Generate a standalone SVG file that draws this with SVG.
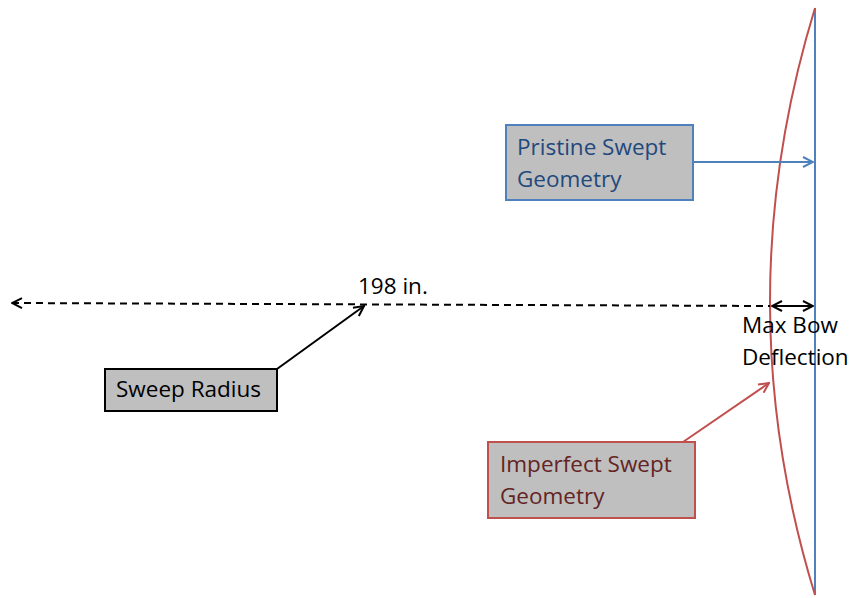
<svg xmlns="http://www.w3.org/2000/svg" width="855" height="598" viewBox="0 0 855 598">
<style>
text{font-family:"Open Sans","Liberation Sans",sans-serif;font-size:22.5px}
.box{fill:#BFBFBF;stroke-width:2}
</style>
<defs>
<marker id="ab" viewBox="0 0 12 12" refX="11" refY="6" markerWidth="12" markerHeight="12" markerUnits="userSpaceOnUse" orient="auto-start-reverse"><path d="M1,1 L11,6 L1,11" fill="none" stroke="#000" stroke-width="2"/></marker>
<marker id="ablue" viewBox="0 0 12 12" refX="11" refY="6" markerWidth="12" markerHeight="12" markerUnits="userSpaceOnUse" orient="auto"><path d="M1,1 L11,6 L1,11" fill="none" stroke="#4F81BD" stroke-width="2"/></marker>
<marker id="ared" viewBox="0 0 12 12" refX="11" refY="6" markerWidth="12" markerHeight="12" markerUnits="userSpaceOnUse" orient="auto"><path d="M1,1 L11,6 L1,11" fill="none" stroke="#C0504D" stroke-width="2"/></marker>
</defs>
<g id="geometry">
<line x1="815" y1="8" x2="815" y2="595" stroke="#4F81BD" stroke-width="2"/>
<path d="M815,8 Q725,302 815,595" fill="none" stroke="#C0504D" stroke-width="2"/>
</g>
<g id="connectors">
<line x1="12" y1="303" x2="770" y2="306" stroke="#000" stroke-width="2" stroke-dasharray="7,5" marker-start="url(#ab)"/>
<line x1="772" y1="306" x2="813" y2="306" stroke="#000" stroke-width="2" marker-start="url(#ab)" marker-end="url(#ab)"/>
<line x1="277" y1="369" x2="364" y2="306" stroke="#000" stroke-width="2" marker-end="url(#ab)"/>
<line x1="693" y1="162" x2="813" y2="162" stroke="#4F81BD" stroke-width="2" marker-end="url(#ablue)"/>
<line x1="683" y1="442" x2="769" y2="383" stroke="#C0504D" stroke-width="2" marker-end="url(#ared)"/>
</g>
<g id="label198"><text x="358" y="294">198 in.</text></g>
<g id="maxbow"><text x="742" y="333">Max Bow</text><text x="742" y="365">Deflection</text></g>
<g id="pristine">
<rect class="box" x="506" y="125" width="187" height="75" stroke="#4F81BD"/>
<text x="517" y="155" fill="#1F497D">Pristine Swept</text>
<text x="517" y="187" fill="#1F497D">Geometry</text>
</g>
<g id="imperfect">
<rect class="box" x="488" y="442" width="207" height="76" stroke="#C0504D"/>
<text x="500" y="472" fill="#632423">Imperfect Swept</text>
<text x="500" y="504" fill="#632423">Geometry</text>
</g>
<g id="sweep">
<rect class="box" x="105" y="369" width="172" height="42" stroke="#000"/>
<text x="116" y="397">Sweep Radius</text>
</g>
</svg>
